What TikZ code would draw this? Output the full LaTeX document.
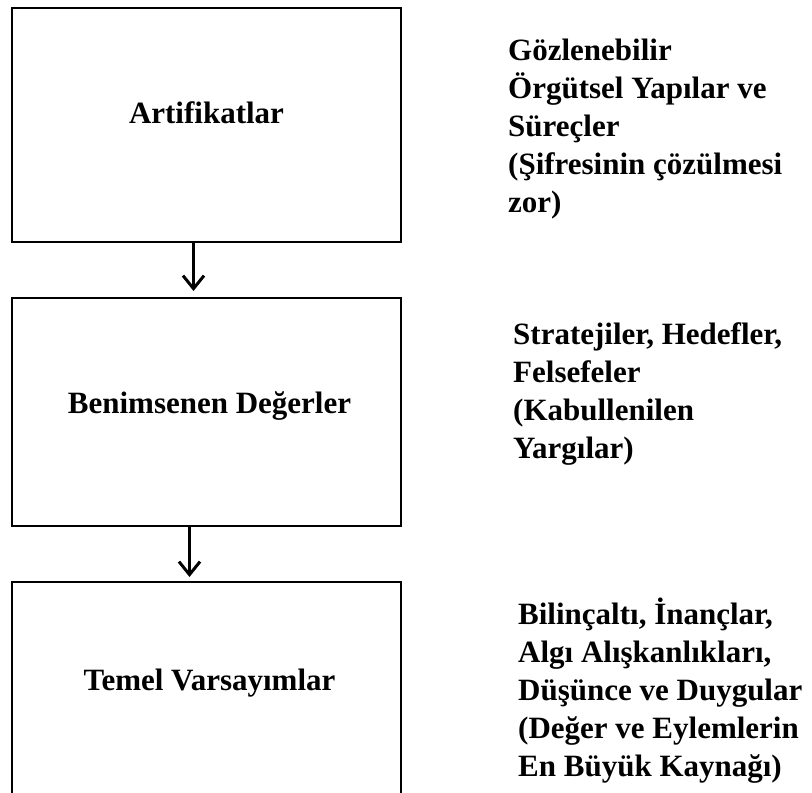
\documentclass[tikz,border=0pt]{standalone}
\usepackage{fontspec}
\setmainfont{Liberation Serif}
\usetikzlibrary{positioning, arrows.meta, calc}

\begin{document}
\begin{tikzpicture}[
    x=1pt, y=-1pt,
    node distance=56pt,
    % Styles for the three layers
    layer/.style={draw=black, line width=2pt, rectangle, minimum width=389pt, outer sep=0pt, inner sep=0pt},
    layer_title/.style={anchor=base, font=\fontsize{31}{38}\selectfont\bfseries, inner sep=0pt},
    side_note/.style={anchor=west, align=left, font=\fontsize{31}{38}\selectfont\bfseries, inner sep=0pt},
    % Arrow style
    down_arrow/.style={-{Straight Barb[length=13pt, width=21pt]}, line width=3pt, draw=black}
]
    \clip (0,0) rectangle (812,793);

    % ==================== Layers (LEFT COLUMN) ====================
    \node (artifacts) [layer, minimum height=234pt] at (206.5,125) {};
    \node (values) [layer, minimum height=228pt, below=of artifacts] {};
    \node (assumptions) [layer, minimum height=228pt, below=of values] {};

    \node (artifacts_t) [layer_title] at ([yshift=-115pt]artifacts.north) {Artifikatlar};
    \node (values_t) [layer_title] at ([xshift=3pt, yshift=-115pt]values.north) {Benimsenen Değerler};
    \node (assumptions_t) [layer_title] at ([xshift=3pt, yshift=-108pt]assumptions.north) {Temel Varsayımlar};

    % Arrows between the layers
    \draw [down_arrow] ([xshift=-13pt]artifacts.south) -- ([xshift=-13pt, yshift=7pt]values.north);
    \draw [down_arrow] ([xshift=-17pt]values.south) -- ([xshift=-17pt, yshift=5pt]assumptions.north);

    % ==================== Descriptions (RIGHT COLUMN) ====================
    \node (artifacts_d) [side_note] at (508,129) {Gözlenebilir\\Örgütsel Yapılar ve\\Süreçler\\(Şifresinin çözülmesi\\zor)};
    \node (values_d) [side_note] at (513,394) {Stratejiler, Hedefler,\\Felsefeler\\(Kabullenilen\\Yargılar)};
    \node (assumptions_d) [side_note] at (518,691) {Bilinçaltı, İnançlar,\\Algı Alışkanlıkları,\\Düşünce ve Duygular\\(Değer ve Eylemlerin\\En Büyük Kaynağı)};

\end{tikzpicture}
\end{document}
